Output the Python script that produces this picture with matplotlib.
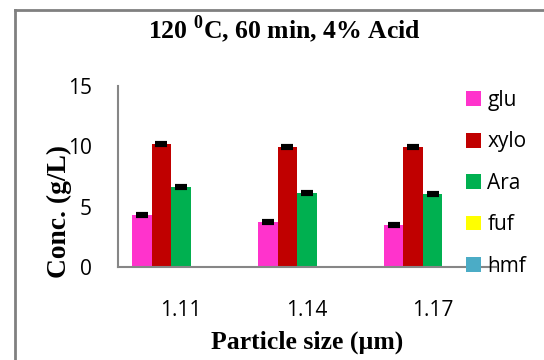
import numpy as np
import matplotlib
matplotlib.use('Agg')
import matplotlib.pyplot as plt
from matplotlib.lines import Line2D

# Datos
particle_sizes = ['1.11', '1.14', '1.17']
series_names = ['glu', 'xylo', 'Ara', 'fuf', 'hmf']
glu = [4.27, 3.74, 3.46]
xylo = [10.2, 9.95, 9.95]
ara = [6.65, 6.1, 6.07]
fuf = [0, 0, 0]
hmf = [0, 0, 0]
err_glu = [0.08, 0.08, 0.08]
err_xylo = [0.08, 0.08, 0.08]
err_ara = [0.08, 0.08, 0.08]

colors = ['#FF33CC', '#C00000', '#00B050', '#FFFF00', '#4BACC6']

plt.rcParams['mathtext.fontset'] = 'custom'
plt.rcParams['mathtext.rm'] = 'Liberation Serif'
plt.rcParams['mathtext.bf'] = 'Liberation Serif:bold'

fig = plt.figure(figsize=(5.44, 3.6), dpi=100)
ax = fig.add_axes([0.217, 0.259, 0.694, 0.502])

x = np.arange(len(particle_sizes))
w = 0.155
valores = [glu, xylo, ara, fuf, hmf]
errores = [err_glu, err_xylo, err_ara, None, None]
for i, (nombre, vals, c) in enumerate(zip(series_names, valores, colors)):
    pos = x + (i - 2) * w
    ax.bar(pos, vals, width=w, color=c, label=nombre, zorder=2)
    if errores[i] is not None:
        ax.errorbar(pos, vals, yerr=errores[i], fmt='none', ecolor='black',
                    capsize=4.3, capthick=3, elinewidth=1, zorder=3)

ax.set_xlim(-0.5, 2.5)
ax.set_ylim(0, 15)
ax.set_yticks([0, 5, 10, 15])
ax.set_xticks(x)
ax.set_xticklabels(particle_sizes)
for lab in ax.get_xticklabels() + ax.get_yticklabels():
    lab.set_fontfamily('Open Sans')
    lab.set_fontsize(15)
ax.tick_params(axis='both', length=0)
ax.tick_params(axis='y', pad=19)
ax.tick_params(axis='x', pad=24)
ax.spines['top'].set_visible(False)
ax.spines['right'].set_visible(False)
ax.spines['left'].set_color('#868686')
ax.spines['bottom'].set_color('#868686')
ax.spines['left'].set_linewidth(1.5)
ax.spines['bottom'].set_linewidth(1.5)

fig.text(0.522, 0.919, r'120 $^{\mathbf{0}}$C, 60 min, 4% Acid', ha='center', va='center',
         family='Liberation Serif', fontweight='bold', fontsize=18.5)
fig.text(0.564, 0.05, 'Particle size (µm)', ha='center', va='center',
         family='Liberation Serif', fontweight='bold', fontsize=18.5)
fig.text(0.109, 0.413, 'Conc. (g/L)', ha='center', va='center', rotation=90,
         family='Liberation Serif', fontweight='bold', fontsize=19.8, zorder=5)

leg = fig.legend(loc='upper left', bbox_to_anchor=(0.857, 0.75), frameon=False,
                 prop={'family': 'Open Sans', 'size': 15}, handlelength=0.72,
                 handleheight=0.72, handletextpad=0.3, labelspacing=0.98,
                 borderpad=0, borderaxespad=0)

# Marco exterior (recortado)
fig.add_artist(Line2D([0.0276, 0.0276], [0, 0.972], color='#808080', lw=2))
fig.add_artist(Line2D([0.0276, 1.0], [0.972, 0.972], color='#808080', lw=2))

plt.savefig('out.png', dpi=100)
